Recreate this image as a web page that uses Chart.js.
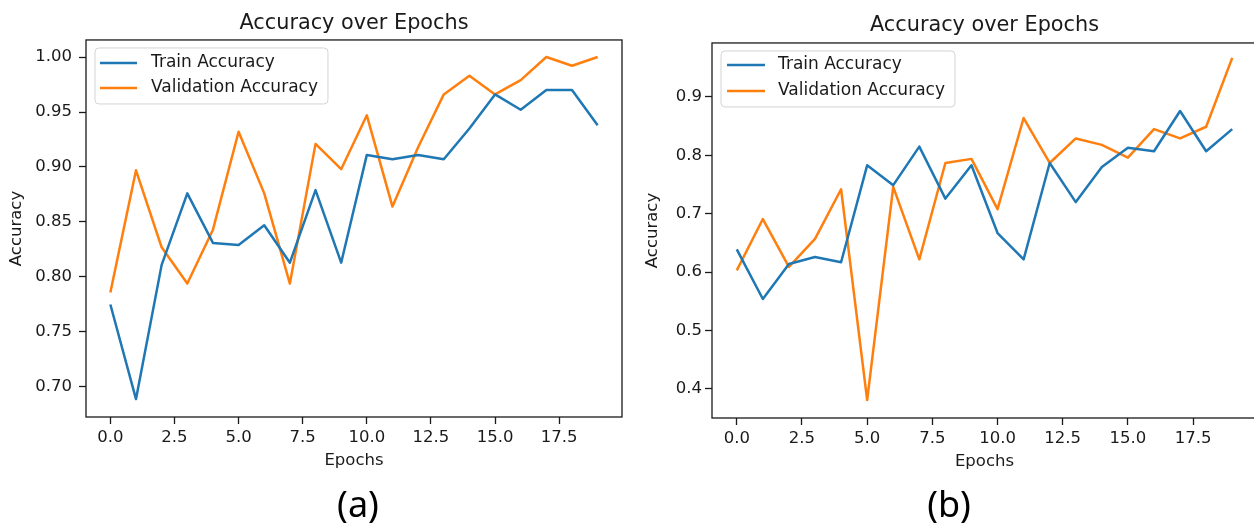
<!DOCTYPE html>
<html><head><meta charset="utf-8">
<script src="https://cdn.jsdelivr.net/npm/chart.js@4.4.0/dist/chart.umd.min.js"></script>
<style>
html,body{margin:0;padding:0;background:#fff;overflow:hidden;width:1254px;height:526px;position:relative;}
#chartA{position:absolute;left:0;top:0;}
#chartB{position:absolute;left:640px;top:0;}
.cap{position:absolute;font-family:'Noto Sans',sans-serif;font-size:36px;line-height:36px;color:#000;transform:translateX(-50%);top:486px;white-space:nowrap;}
</style></head>
<body>
<canvas id="chartA" width="640" height="526"></canvas>
<canvas id="chartB" width="620" height="526"></canvas>
<div class="cap" style="left:358px">(a)</div>
<div class="cap" style="left:949px">(b)</div>
<script>
// ---- data ----
const epochs = [0,1,2,3,4,5,6,7,8,9,10,11,12,13,14,15,16,17,18,19];
const trainAccA = [0.775,0.689,0.811,0.876,0.831,0.829,0.847,0.813,0.879,0.813,0.911,0.907,0.911,0.907,0.935,0.966,0.952,0.970,0.970,0.938];
const valAccA   = [0.786,0.897,0.827,0.794,0.843,0.932,0.876,0.794,0.921,0.898,0.947,0.864,0.918,0.966,0.983,0.966,0.979,1.000,0.992,1.000];
const trainAccB = [0.639,0.554,0.614,0.626,0.617,0.783,0.749,0.815,0.726,0.783,0.667,0.622,0.787,0.720,0.780,0.813,0.807,0.876,0.807,0.845];
const valAccB   = [0.603,0.691,0.609,0.657,0.742,0.381,0.746,0.622,0.787,0.794,0.708,0.864,0.787,0.829,0.818,0.796,0.845,0.829,0.849,0.967];
const xTickValues  = [0,2.5,5,7.5,10,12.5,15,17.5];
const yTickValuesA = [0.70,0.75,0.80,0.85,0.90,0.95,1.00];
const yTickValuesB = [0.4,0.5,0.6,0.7,0.8,0.9];
const seriesNames = ['Train Accuracy','Validation Accuracy'];
const titleText = 'Accuracy over Epochs';

const BLUE = '#1f77b4', ORANGE = '#ff7f0e', INK = '#1a1a1a';
const FONT = "'DejaVu Sans', sans-serif";

const framePlugin = {
  id: 'frame',
  afterDatasetsDraw(chart) {
    const {ctx, chartArea: ca} = chart;
    ctx.save();
    ctx.strokeStyle = INK; ctx.lineWidth = 1.3;
    ctx.strokeRect(ca.left, ca.top, ca.right - ca.left, ca.bottom - ca.top);
    ctx.restore();
  }
};

const legendPlugin = {
  id: 'insideLegend',
  afterDatasetsDraw(chart, args, o) {
    const {ctx, chartArea: ca} = chart;
    ctx.save();
    ctx.font = '17px ' + FONT;
    const ds = chart.data.datasets;
    const tw = Math.max(...ds.map(d => ctx.measureText(d.label).width));
    const x0 = ca.left + o.dx, y0 = ca.top + o.dy;
    const w = o.textX + tw + o.padR, h = o.h, r = 4;
    ctx.beginPath();
    ctx.moveTo(x0 + r, y0); ctx.lineTo(x0 + w - r, y0); ctx.arcTo(x0 + w, y0, x0 + w, y0 + r, r);
    ctx.lineTo(x0 + w, y0 + h - r); ctx.arcTo(x0 + w, y0 + h, x0 + w - r, y0 + h, r);
    ctx.lineTo(x0 + r, y0 + h); ctx.arcTo(x0, y0 + h, x0, y0 + h - r, r);
    ctx.lineTo(x0, y0 + r); ctx.arcTo(x0, y0, x0 + r, y0, r); ctx.closePath();
    ctx.fillStyle = 'rgba(255,255,255,0.8)'; ctx.fill();
    ctx.strokeStyle = '#d4d4d4'; ctx.lineWidth = 1; ctx.stroke();
    ds.forEach((d, i) => {
      const y = y0 + o.row0 + i * o.rowGap;
      ctx.strokeStyle = d.borderColor; ctx.lineWidth = 2.5;
      ctx.beginPath(); ctx.moveTo(x0 + o.lineX0, y); ctx.lineTo(x0 + o.lineX1, y); ctx.stroke();
      ctx.fillStyle = INK; ctx.textBaseline = 'middle'; ctx.textAlign = 'left';
      ctx.fillText(d.label, x0 + o.textX, y);
    });
    ctx.restore();
  }
};

function makeChart(id, train, val, yTicks, yDec, g) {
  const pts = arr => epochs.map((e, i) => ({x: e, y: arr[i]}));
  return new Chart(document.getElementById(id), {
    type: 'line',
    data: {
      datasets: [
        {label: seriesNames[0], data: pts(train), borderColor: BLUE, backgroundColor: BLUE, borderWidth: 2.5, pointRadius: 0, tension: 0, borderJoinStyle: 'round'},
        {label: seriesNames[1], data: pts(val), borderColor: ORANGE, backgroundColor: ORANGE, borderWidth: 2.5, pointRadius: 0, tension: 0, borderJoinStyle: 'round'}
      ]
    },
    options: {
      responsive: false, animation: false, events: [],
      layout: {padding: {left: 0, top: 0, right: g.padRight, bottom: g.padBottom}},
      plugins: {
        legend: {display: false}, tooltip: {enabled: false},
        title: {display: true, text: titleText, fullSize: false, color: INK,
                font: {family: FONT, size: 20.8, weight: 'normal', lineHeight: 1.2},
                padding: {top: g.titleTop, bottom: g.titleBottom}},
        insideLegend: g.legend
      },
      scales: {
        x: {
          type: 'linear', min: -0.95, max: 19.95,
          afterBuildTicks: ax => { ax.ticks = xTickValues.map(v => ({value: v})); },
          afterFit: ax => { ax.height = 60; },
          grid: {display: true, drawOnChartArea: false, drawTicks: true, tickLength: 7, tickColor: INK, tickWidth: 1.3},
          border: {display: false},
          ticks: {color: INK, padding: g.xTickPad, maxRotation: 0, autoSkip: false,
                  font: {family: FONT, size: 16.5}, callback: v => Number(v).toFixed(1)},
          title: {display: true, text: 'Epochs', color: INK, font: {family: FONT, size: 16.5}, padding: {top: 0, bottom: g.xTitlePad}}
        },
        y: {
          type: 'linear', min: g.yMin, max: g.yMax,
          afterBuildTicks: ax => { ax.ticks = yTicks.map(v => ({value: v})); },
          afterFit: ax => { ax.width = g.yWidth; },
          grid: {display: true, drawOnChartArea: false, drawTicks: true, tickLength: 7, tickColor: INK, tickWidth: 1.3},
          border: {display: false},
          ticks: {color: INK, padding: g.yTickPad, autoSkip: false,
                  font: {family: FONT, size: 16.5}, callback: v => Number(v).toFixed(yDec)},
          title: {display: true, text: 'Accuracy', color: INK, font: {family: FONT, size: 16.5}, padding: {top: g.yTitlePad, bottom: 0}}
        }
      }
    },
    plugins: [framePlugin, legendPlugin]
  });
}

makeChart('chartA', trainAccA, valAccA, yTickValuesA, 2, {
  padRight: 18, padBottom: 49, titleTop: 11, titleBottom: 4, yWidth: 86,
  yMin: 0.6727, yMax: 1.0155, xTickPad: 3.6, xTitlePad: 6.1, yTickPad: 7, yTitlePad: 6.8,
  legend: {dx: 9, dy: 8, lineX0: 5, lineX1: 42, textX: 56, padR: 10, h: 56, row0: 15, rowGap: 25}
});
makeChart('chartB', trainAccB, valAccB, yTickValuesB, 1, {
  padRight: 3, padBottom: 48, titleTop: 13.5, titleBottom: 4.5, yWidth: 72,
  yMin: 0.3503, yMax: 0.9925, xTickPad: 3.6, xTitlePad: 6.6, yTickPad: 3, yTitlePad: 3.1,
  legend: {dx: 9, dy: 8, lineX0: 6, lineX1: 44, textX: 57, padR: 10, h: 56, row0: 14, rowGap: 26}
});
</script>
</body></html>
